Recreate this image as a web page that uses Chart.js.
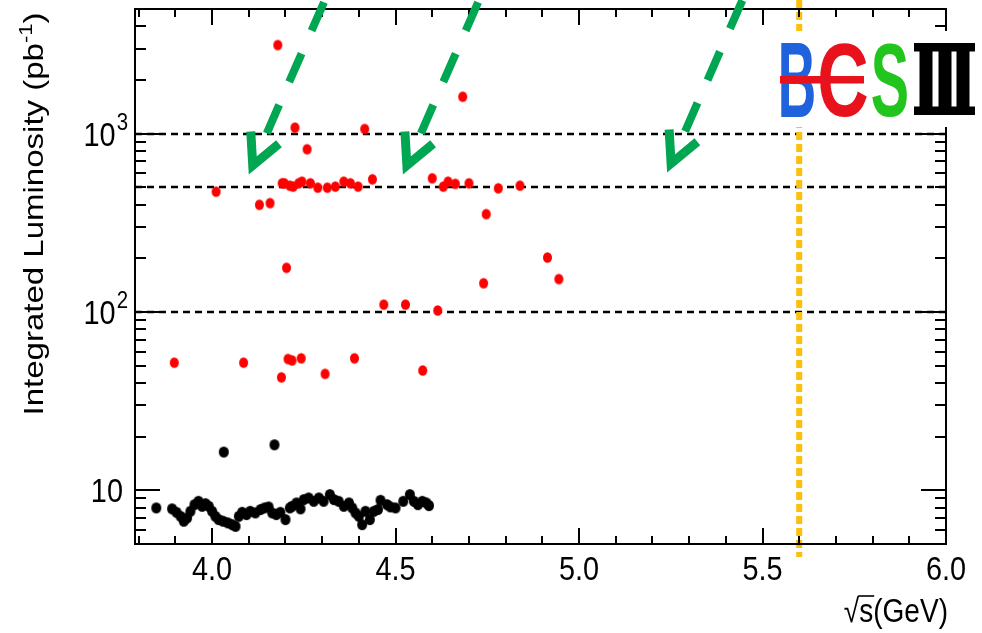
<!DOCTYPE html>
<html>
<head>
<meta charset="utf-8">
<script src="https://cdn.jsdelivr.net/npm/chart.js@4/dist/chart.umd.min.js"></script>
<style>
  html, body { margin: 0; padding: 0; background: #fff; }
  #wrap { width: 982px; height: 633px; }
</style>
</head>
<body>
<div id="wrap"><canvas id="canvas" width="982" height="633"></canvas></div>
<script>
// sqrt(s) in GeV and integrated luminosity in pb^-1
const scanE = [3.848, 3.891, 3.903, 3.914, 3.923, 3.932, 3.941, 3.952, 3.963, 3.973, 3.982, 3.991,
  4.000, 4.009, 4.018, 4.030, 4.032, 4.043, 4.055, 4.064, 4.073, 4.082, 4.094, 4.104, 4.118, 4.132,
  4.143, 4.154, 4.164, 4.170, 4.175, 4.186, 4.200, 4.212, 4.218, 4.230, 4.241, 4.250, 4.263, 4.277,
  4.291, 4.304, 4.321, 4.332, 4.345, 4.359, 4.373, 4.382, 4.391, 4.400, 4.409, 4.418, 4.430, 4.441,
  4.452, 4.459, 4.477, 4.486, 4.500, 4.521, 4.539, 4.550, 4.561, 4.573, 4.584, 4.591];
const scanLumi = [7.97, 7.87, 7.53, 7.15, 6.71, 7.00, 7.63, 8.31, 8.68, 8.14, 8.42, 8.14,
  7.63, 7.15, 6.85, 6.71, 16.4, 6.57, 6.42, 6.28, 7.15, 7.53, 7.31, 7.63, 7.47, 7.80,
  7.97, 8.07, 7.47, 18.0, 7.31, 7.53, 6.85, 7.97, 8.14, 8.50, 7.87, 8.87, 9.07, 8.68,
  9.07, 8.68, 9.46, 8.87, 8.68, 8.14, 8.50, 7.97, 7.47, 7.15, 6.42, 7.63, 6.85, 7.63,
  7.80, 8.79, 8.31, 8.07, 7.97, 8.68, 9.46, 8.68, 8.31, 8.68, 8.50, 8.21];

const xyzE = [3.897, 4.011, 4.086, 4.129, 4.158, 4.179, 4.189, 4.191, 4.197, 4.203, 4.207, 4.212,
  4.218, 4.221, 4.226, 4.236, 4.243, 4.245, 4.259, 4.268, 4.288, 4.308, 4.314, 4.336, 4.359, 4.377,
  4.388, 4.398, 4.416, 4.437, 4.468, 4.527, 4.574, 4.600, 4.615, 4.630, 4.643, 4.663, 4.683, 4.700,
  4.740, 4.747, 4.780, 4.839, 4.914, 4.945];
const xyzLumi = [52, 473, 52, 399, 408, 3140, 43, 527, 527, 177, 54.5, 511,
  53.5, 505, 1081, 527, 55, 538, 818, 527, 498, 45, 498, 505, 538, 527,
  55, 505, 1062, 555, 110, 110, 47, 562, 102, 505, 538, 523, 1611, 527,
  145, 354, 494, 511, 202, 153];

const refLumi = [100, 500, 1000];        // dashed horizontal lines
const maxEnergy = 5.6;                   // dotted yellow line
const xTicks = [4.0, 4.5, 5.0, 5.5, 6.0];
const xTickLabels = ['4.0', '4.5', '5.0', '5.5', '6.0'];
const yTicks = [10, 100, 1000];
const yTickLabels = [['10', ''], ['10', '2'], ['10', '3']];
const arrowTipE = [4.10, 4.52, 5.24];
const arrowTipLumi = [590, 590, 605];

const FONT = '"Liberation Sans", Arial, sans-serif';
const SX = 0.85; // the original picture is squeezed sideways

function dot(color, rx, ry) {
  const c = document.createElement('canvas');
  c.width = Math.ceil(rx * 2) + 2;
  c.height = Math.ceil(ry * 2) + 2;
  const g = c.getContext('2d');
  g.fillStyle = color;
  g.beginPath();
  g.ellipse(c.width / 2, c.height / 2, rx, ry, 0, 0, Math.PI * 2);
  g.fill();
  return c;
}

function text(ctx, str, px, py, size, align) {
  ctx.save();
  ctx.translate(px, py);
  ctx.scale(SX, 1);
  ctx.font = size + 'px ' + FONT;
  ctx.textAlign = align;
  ctx.textBaseline = 'alphabetic';
  ctx.fillText(str, 0, 0);
  ctx.restore();
}

function width(ctx, str, size) {
  ctx.font = size + 'px ' + FONT;
  return ctx.measureText(str).width * SX;
}

// letter of the logo stretched into a box
function fitLetter(ctx, str, left, top, w, h, color) {
  ctx.save();
  ctx.font = 'bold 100px ' + FONT;
  const m = ctx.measureText(str);
  const tw = m.actualBoundingBoxLeft + m.actualBoundingBoxRight;
  const th = m.actualBoundingBoxAscent + m.actualBoundingBoxDescent;
  ctx.translate(left, top);
  ctx.scale(w / tw, h / th);
  ctx.fillStyle = color;
  ctx.textAlign = 'left';
  ctx.textBaseline = 'alphabetic';
  ctx.fillText(str, m.actualBoundingBoxLeft, m.actualBoundingBoxAscent);
  ctx.restore();
}

const decor = {
  id: 'decor',
  beforeDatasetsDraw(chart) {
    const { ctx, chartArea: a, scales: { x, y } } = chart;
    ctx.save();
    ctx.strokeStyle = '#000';
    ctx.lineWidth = 2.5;
    ctx.setLineDash([7, 5]);
    refLumi.forEach(v => {
      const py = Math.round(y.getPixelForValue(v));
      ctx.beginPath();
      ctx.moveTo(a.left, py);
      ctx.lineTo(a.right, py);
      ctx.stroke();
    });
    const px = x.getPixelForValue(maxEnergy);
    ctx.strokeStyle = '#fdbf0a';
    ctx.lineWidth = 6;
    ctx.setLineDash([8, 4]);
    ctx.beginPath();
    ctx.moveTo(px, 0);
    ctx.lineTo(px, a.bottom + 13);
    ctx.stroke();
    ctx.restore();
  },
  afterDatasetsDraw(chart) {
    const { ctx, chartArea: a, scales: { x, y } } = chart;
    ctx.save();
    ctx.setLineDash([]);
    ctx.strokeStyle = '#000';
    ctx.fillStyle = '#000';
    ctx.lineWidth = 2;

    // ticks, pointing inward on all four sides
    ctx.beginPath();
    for (let i = 38; i <= 60; i++) {
      const px = Math.round(x.getPixelForValue(i / 10));
      const len = i % 5 === 0 ? 16 : 8;
      ctx.moveTo(px, a.bottom); ctx.lineTo(px, a.bottom - len);
      ctx.moveTo(px, a.top); ctx.lineTo(px, a.top + len);
    }
    for (let d = 1; d <= 1000; d *= 10) {
      for (let m = 1; m <= 9; m++) {
        const v = m * d;
        if (v < 5 || v > 5000) continue;
        const py = Math.round(y.getPixelForValue(v));
        const len = m === 1 ? 25 : 11;
        ctx.moveTo(a.left, py); ctx.lineTo(a.left + len, py);
        ctx.moveTo(a.right, py); ctx.lineTo(a.right - len, py);
      }
    }
    ctx.stroke();
    ctx.strokeRect(a.left, a.top, a.right - a.left, a.bottom - a.top);

    // tick labels
    xTicks.forEach((v, i) => text(ctx, xTickLabels[i], x.getPixelForValue(v), a.bottom + 36, 34, 'center'));
    yTicks.forEach((v, i) => {
      const py = y.getPixelForValue(v);
      const [base, sup] = yTickLabels[i];
      if (!sup) {
        text(ctx, base, a.left - 12, py + 12, 34, 'right');
      } else {
        const sw = width(ctx, sup, 24);
        text(ctx, sup, a.left - 7 - sw, py - 4, 24, 'left');
        text(ctx, base, a.left - 8 - sw, py + 12, 34, 'right');
      }
    });

    // axis titles
    const yt = 'Integrated Luminosity (pb';
    ctx.font = '33px ' + FONT;
    const w1 = ctx.measureText(yt).width;
    const w3 = ctx.measureText(')').width;
    ctx.font = '22px ' + FONT;
    const w2 = ctx.measureText('-1').width;
    const total = w1 + w2 + w3;
    ctx.save();
    ctx.translate(43, 214);
    ctx.scale(SX, 1);
    ctx.rotate(-Math.PI / 2);
    ctx.textAlign = 'left';
    ctx.font = '33px ' + FONT;
    ctx.fillText(yt, -total / 2, 0);
    ctx.font = '22px ' + FONT;
    ctx.fillText('-1', -total / 2 + w1, -13);
    ctx.font = '33px ' + FONT;
    ctx.fillText(')', -total / 2 + w1 + w2, 0);
    ctx.restore();

    const title = '\u221As(GeV)';
    const right = a.right + 2, base = 622;
    const tw = width(ctx, title, 33);
    text(ctx, title, right, base, 33, 'right');
    const left = right - tw;
    const rw = width(ctx, '\u221A', 33), sw = width(ctx, 's', 33);
    ctx.lineWidth = 1.6;
    ctx.beginPath();
    ctx.moveTo(left + rw - 1, base - 26);
    ctx.lineTo(left + rw + sw + 1, base - 26);
    ctx.stroke();

    // green dashed arrows
    const dx = -0.4, dy = 0.916;
    ctx.strokeStyle = '#00a651';
    arrowTipE.forEach((e, i) => {
      const tx = x.getPixelForValue(e), ty = y.getPixelForValue(arrowTipLumi[i]);
      const sx = tx - dx * 45, sy = ty - dy * 45;
      const len = sy / dy + 5;
      ctx.lineCap = 'butt';
      ctx.lineWidth = 8;
      ctx.setLineDash([31, 25]);
      ctx.beginPath();
      ctx.moveTo(sx, sy);
      ctx.lineTo(sx - dx * len, sy - dy * len);
      ctx.stroke();
      ctx.setLineDash([]);
      ctx.lineWidth = 9;
      ctx.lineJoin = 'miter';
      const vx = tx - dx * 10, vy = ty - dy * 10;
      const back = Math.atan2(-dy, -dx), arm = 34, spread = 0.47;
      ctx.beginPath();
      ctx.moveTo(vx + arm * Math.cos(back - spread), vy + arm * Math.sin(back - spread));
      ctx.lineTo(vx, vy);
      ctx.lineTo(vx + arm * Math.cos(back + spread), vy + arm * Math.sin(back + spread));
      ctx.stroke();
    });

    // BESIII logo on a white patch
    ctx.fillStyle = '#fff';
    ctx.fillRect(772, 31, 210, 96);
    fitLetter(ctx, 'B', 781, 43, 33, 74, '#1f62dc');
    fitLetter(ctx, 'C', 820, 43, 47, 74, '#e8121d');
    ctx.fillStyle = '#e8121d';
    ctx.fillRect(780, 76, 84, 7.5);
    fitLetter(ctx, 'S', 872, 43, 35, 74, '#22c41e');
    ctx.fillStyle = '#000';
    ctx.fillRect(914, 43, 61, 8.5);
    ctx.fillRect(914, 106.5, 61, 8.5);
    [919.5, 938.5, 956.5].forEach(bx => ctx.fillRect(bx, 43, 13, 72));
    ctx.restore();
  }
};

const canvas = document.getElementById('canvas');
const ctx = canvas.getContext('2d');

new Chart(ctx, {
  type: 'scatter',
  data: {
    datasets: [
      {
        label: 'scan',
        data: scanE.map((e, i) => ({ x: e, y: scanLumi[i] })),
        pointStyle: dot('#000', 5.0, 5.5),
        pointRadius: 5,
        backgroundColor: '#000'
      },
      {
        label: 'XYZ',
        data: xyzE.map((e, i) => ({ x: e, y: xyzLumi[i] })),
        pointStyle: dot('#ff0000', 4.5, 5.3),
        pointRadius: 5,
        backgroundColor: '#ff0000'
      }
    ]
  },
  options: {
    responsive: false,
    animation: false,
    layout: { padding: { left: 135, right: 36, top: 9, bottom: 89 } },
    scales: {
      x: { type: 'linear', min: 3.79, max: 6.0, display: false },
      y: { type: 'logarithmic', min: 5, max: 5000, display: false }
    },
    plugins: {
      legend: { display: false },
      tooltip: { enabled: false }
    }
  },
  plugins: [decor]
});
</script>
</body>
</html>
